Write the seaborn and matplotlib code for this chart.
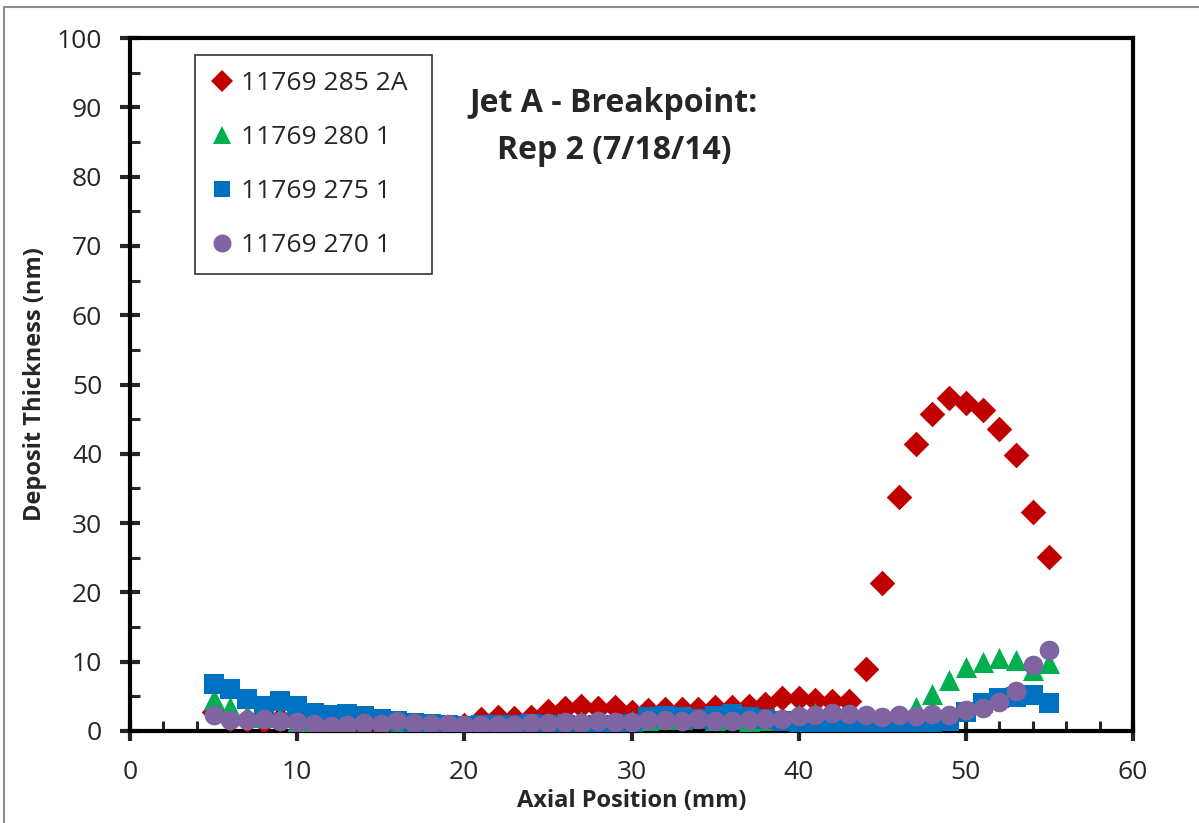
import numpy as np
import pandas as pd
import matplotlib
matplotlib.use("Agg")
import matplotlib.pyplot as plt
import seaborn as sns
from matplotlib.ticker import MultipleLocator
from matplotlib.lines import Line2D
from matplotlib.patches import Rectangle

axial_mm = list(range(5, 56))

s285_2A = [2.8, 1.8, 1.6, 1.5, 1.7, 1.2, 0.8, 0.6, 0.5, 0.8, 0.6, 0.9, 0.7, 0.6, 0.5, 0.9,
           1.7, 2.0, 1.9, 2.0, 2.9, 3.3, 3.6, 3.3, 3.4, 2.7, 3.0, 3.2, 3.2, 3.2, 3.4, 3.4,
           3.6, 3.9, 4.7, 4.8, 4.5, 4.4, 4.4, 9.0, 21.3, 33.8, 41.4, 45.8, 48.0, 47.4, 46.3,
           43.6, 39.8, 31.6, 25.1]
s280_1 = [4.6, 3.5, 2.3, 2.0, 2.0, 1.3, 1.0, 0.8, 0.7, 0.6, 0.5, 0.4, 0.3, 0.3, 0.2, 0.0,
          0.2, 0.4, 0.6, 0.8, 1.0, 1.2, 1.4, 1.2, 1.3, 1.5, 1.6, 1.8, 1.7, 1.9, 1.6, 1.7,
          1.5, 1.6, 1.8, 2.5, 2.6, 2.4, 1.8, 1.2, 1.0, 1.5, 3.5, 5.4, 7.4, 9.3, 10.0, 10.5,
          10.2, 8.8, 9.8]
s275_1 = [6.8, 6.1, 4.6, 3.6, 4.3, 3.6, 2.6, 2.3, 2.4, 2.1, 1.8, 1.5, 1.2, 1.0, 0.8, 0.7,
          0.8, 0.9, 0.9, 1.0, 0.9, 0.8, 0.7, 0.8, 0.9, 1.0, 2.0, 2.2, 2.0, 1.8, 2.2, 2.4,
          2.0, 1.7, 1.5, 1.3, 1.2, 1.0, 0.8, 0.5, 0.5, 0.6, 0.8, 0.9, 1.5, 2.8, 4.0, 4.7,
          4.9, 5.2, 4.0]
s270_1 = [2.3, 1.6, 1.6, 1.7, 1.4, 1.3, 1.0, 0.7, 0.8, 1.2, 1.0, 1.5, 1.2, 1.0, 1.0, 0.9,
          0.9, 0.8, 0.9, 1.1, 1.2, 1.3, 1.1, 1.4, 1.3, 1.3, 1.6, 1.6, 1.5, 1.7, 1.5, 1.4,
          1.6, 1.8, 1.8, 2.1, 2.3, 2.6, 2.5, 2.3, 2.0, 2.3, 2.2, 2.4, 2.3, 3.0, 3.3, 4.2,
          5.7, 9.5, 11.7]

series_names = ["11769 285 2A", "11769 280 1", "11769 275 1", "11769 270 1"]
series_values = [s285_2A, s280_1, s275_1, s270_1]
colors = ["#C00000", "#00B050", "#0070C0", "#8064A2"]
markers = ["D", "^", "s", "o"]
msizes = [170, 230, 190, 200]

df = pd.DataFrame({
    "Axial Position (mm)": np.tile(axial_mm, len(series_names)),
    "Deposit Thickness (nm)": np.concatenate(series_values),
    "Sample": np.repeat(series_names, len(axial_mm)),
})

sns.set_style("white")
plt.rcParams['font.family'] = ['Open Sans', 'DejaVu Sans']

fig = plt.figure(figsize=(11.99, 8.23), dpi=100)
ax = fig.add_axes([130/1199, 1-731/823, (1133-130)/1199, (731-38)/823])

for name, col, mk, sz in zip(series_names, colors, markers, msizes):
    sub = df[df["Sample"] == name]
    sns.scatterplot(data=sub, x="Axial Position (mm)", y="Deposit Thickness (nm)",
                    color=col, marker=mk, s=sz, linewidth=0, ax=ax, legend=False, zorder=3)

ax.set_xlim(0, 60)
ax.set_ylim(0, 100)
ax.xaxis.set_major_locator(MultipleLocator(10))
ax.xaxis.set_minor_locator(MultipleLocator(2))
ax.yaxis.set_major_locator(MultipleLocator(10))
ax.yaxis.set_minor_locator(MultipleLocator(5))
ax.tick_params(which="major", direction="inout", length=14, width=3, labelsize=19)
ax.tick_params(axis="x", which="major", pad=14)
ax.tick_params(axis="y", which="major", pad=13)
ax.tick_params(which="minor", direction="in", length=7, width=2.2)
ax.tick_params(axis="both", which="both", bottom=True, left=True, top=False, right=False)
for sp in ax.spines.values():
    sp.set_linewidth(3)
    sp.set_color("black")

ax.set_xlabel("Axial Position (mm)", fontsize=17, fontweight="bold", labelpad=3)
ax.set_ylabel("Deposit Thickness (nm)", fontsize=17, fontweight="bold", labelpad=7)

ax.text((614-130)/1003, (731-127)/693, "Jet A - Breakpoint:\nRep 2 (7/18/14)",
        transform=ax.transAxes, ha="center", va="center", fontsize=23,
        fontweight="bold", linespacing=1.55)

handles = [Line2D([], [], linestyle="none", marker=mk, color=col, markersize=ms,
                  markeredgewidth=0)
           for col, mk, ms in zip(colors, markers, [11, 13, 12, 13])]
top = (731-55)/693
leg = ax.legend(handles, series_names, loc="upper left",
                bbox_to_anchor=((195-130)/1003, top-0.35, (432-195)/1003, 0.35),
                mode="expand", frameon=True, fancybox=False, edgecolor="black",
                fontsize=19, handletextpad=0.3, labelspacing=1.1, borderpad=0.6,
                handlelength=0.85, borderaxespad=0)
leg.get_frame().set_linewidth(1.2)

fig.patches.append(Rectangle((4/1199, -0.1), 1.2, 1.1 - 7/823, transform=fig.transFigure,
                             fill=False, edgecolor="#8c8c8c", linewidth=1.5))

fig.savefig("out.png", dpi=100)
